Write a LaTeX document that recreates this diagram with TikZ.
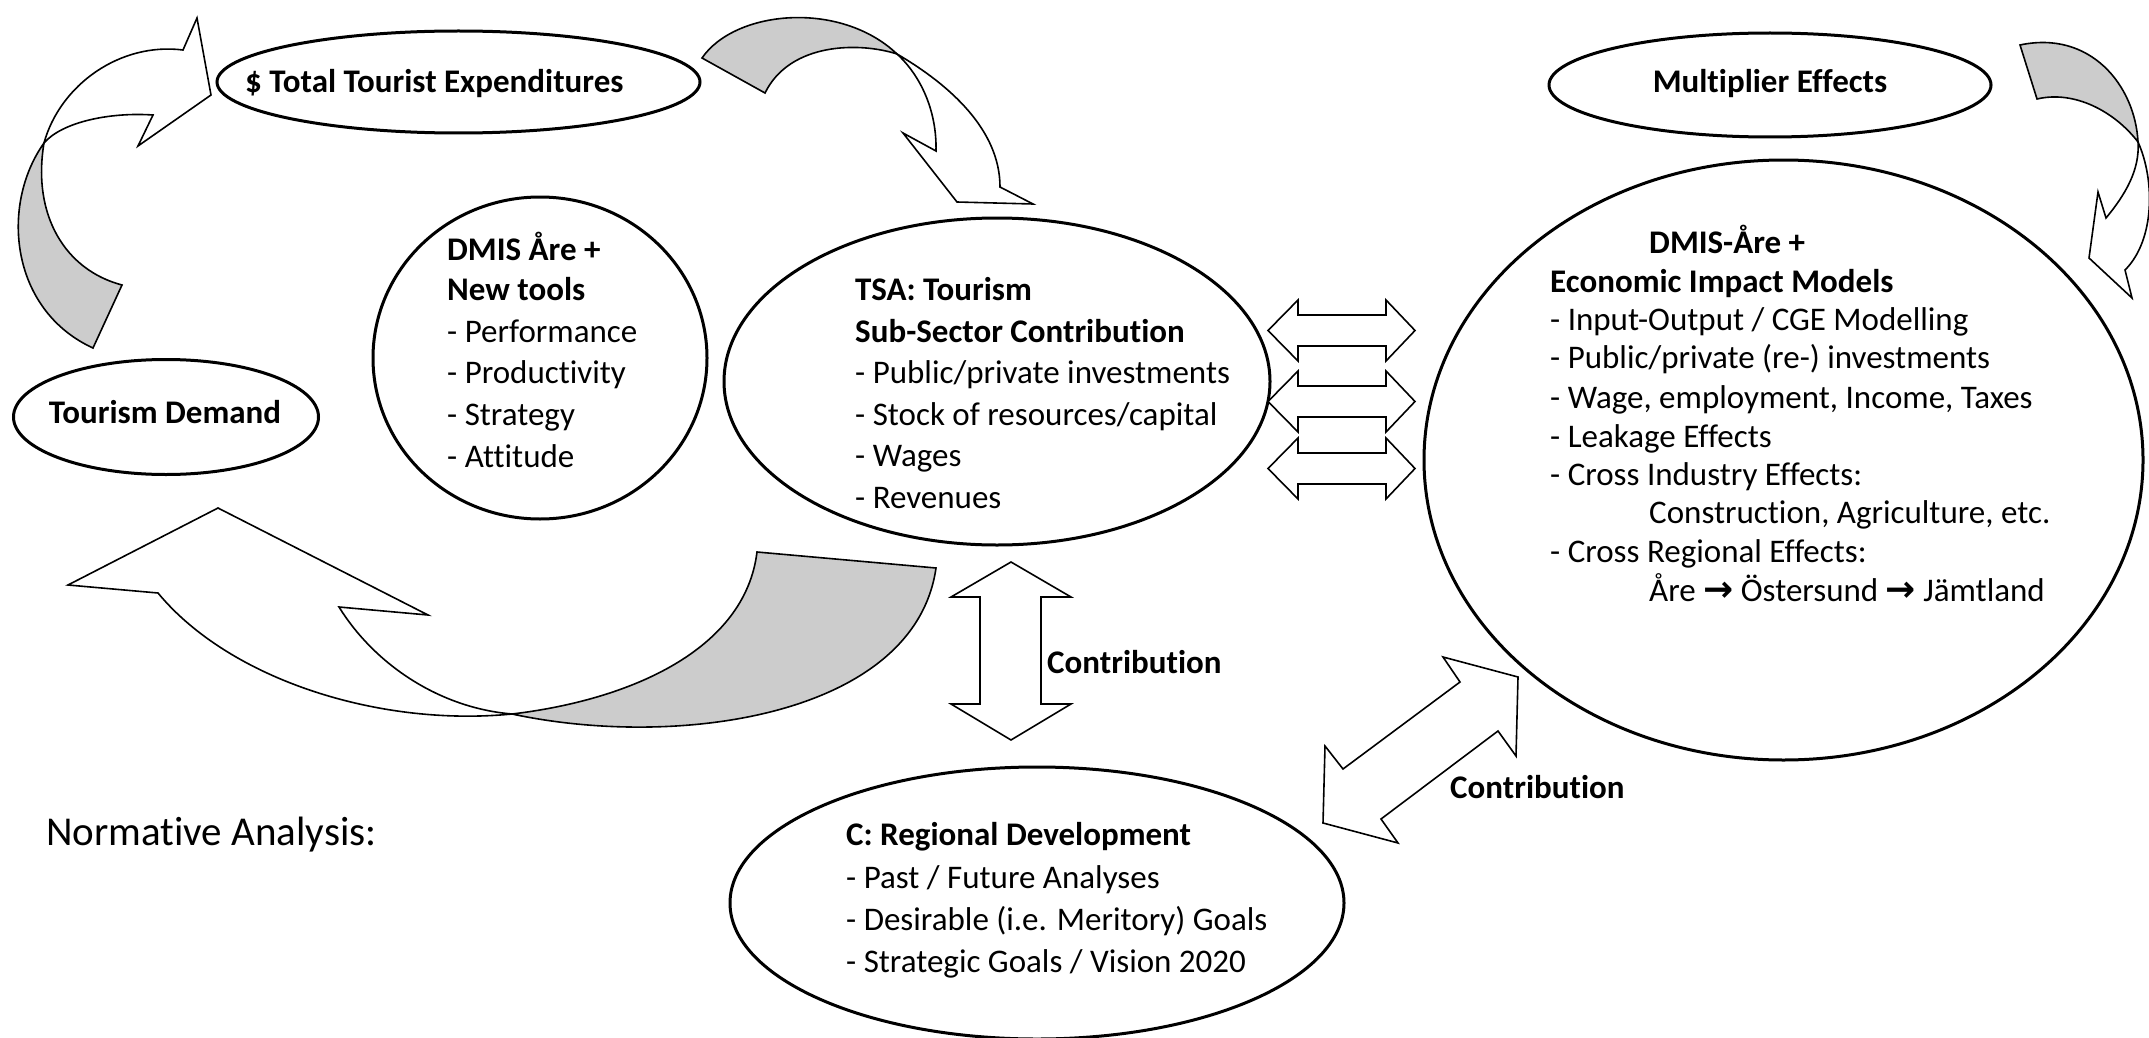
\documentclass[tikz,border=0pt]{standalone}
\usepackage{fontspec}
\setmainfont{Carlito}[Ligatures={NoCommon,NoContextual}]
\newfontfamily\symfont{DejaVu Sans}
\usetikzlibrary{shapes.geometric}
\newcommand{\bigarr}{{\symfont\bfseries\fontsize{36}{40}\selectfont →}}
\begin{document}
\begin{tikzpicture}[x=1pt,y=-1pt,
  ell/.style={draw, line width=3pt, ellipse, inner sep=0pt},
  shp/.style={draw, line width=1.6pt, line join=miter, miter limit=10},
  wfill/.style={shp, fill=white},
  gfill/.style={shp, fill=black!20},
  txr/.style={anchor=base west, inner sep=0pt, font=\fontsize{33}{40}\selectfont},
  txb/.style={txr, font=\fontsize{33}{40}\selectfont\bfseries},
  txc/.style={anchor=base, inner sep=0pt, font=\fontsize{33}{40}\selectfont\bfseries},
]
\useasboundingbox (0,0) rectangle (2149,1038);
\fill[white] (0,0) rectangle (2149,1038);

% ---------------- ellipses ----------------
\node[ell, minimum width=483pt, minimum height=102pt] (exp) at (458.5,82) {};
\node[ell, minimum width=305pt, minimum height=115pt] (dem) at (166,417) {};
\node[ell, minimum width=442pt, minimum height=104pt] (mult) at (1770,85) {};
\node[ell, minimum width=334pt, minimum height=322pt] (dmis) at (540,358) {};
\node[ell, minimum width=546pt, minimum height=327pt] (tsa) at (997,381.5) {};
\node[ell, minimum width=719pt, minimum height=600pt] (dmr) at (1783.5,460) {};
\node[ell, minimum width=614pt, minimum height=272pt] (regdev) at (1037,903) {};

% ---------------- texts ----------------
\node[txb] (expt) at (245,93) {\$ Total Tourist Expenditures};
\node[txc] (demt) at (165,423) {Tourism Demand};
\node[txc] (multt) at (1770,93) {Multiplier Effects};

\node[txb] (dm1) at (447,260) {DMIS Åre +};
\node[txb] (dm2) at (447,300) {New tools};
\node[txr] (dm3) at (447,342) {- Performance};
\node[txr] (dm4) at (447,383) {- Productivity};
\node[txr] (dm5) at (447,425) {- Strategy};
\node[txr] (dm6) at (447,467) {- Attitude};

\node[txb] (ts1) at (855,300.5) {TSA: Tourism};
\node[txb] (ts2) at (855,342) {Sub-Sector Contribution};
\node[txr] (ts3) at (855,383.5) {- Public/private investments};
\node[txr] (ts4) at (855,425) {- Stock of resources/capital};
\node[txr] (ts5) at (855,466.5) {- Wages};
\node[txr] (ts6) at (855,508) {- Revenues};

\node[txb] (dr1) at (1649,253) {DMIS-Åre +};
\node[txb] (dr2) at (1550,292) {Economic Impact Models};
\node[txr] (dr3) at (1550,330) {- Input-Output / CGE Modelling};
\node[txr] (dr4) at (1550,368) {- Public/private (re-) investments};
\node[txr] (dr5) at (1550,408) {- Wage, employment, Income, Taxes};
\node[txr] (dr6) at (1550,447) {- Leakage Effects};
\node[txr] (dr7) at (1550,485) {- Cross Industry Effects:};
\node[txr] (dr8) at (1649,523) {Construction, Agriculture, etc.};
\node[txr] (dr9) at (1550,562) {- Cross Regional Effects:};
\node[txr] (dr10) at (1649,601) {Åre \bigarr{} Östersund \bigarr{} Jämtland};

\node[txb] (rg1) at (846,845) {C: Regional Development};
\node[txr] (rg2) at (846,888) {- Past / Future Analyses};
\node[txr] (rg3) at (846,930) {- Desirable (i.e. Meritory) Goals};
\node[txr] (rg4) at (846,972) {- Strategic Goals / Vision 2020};

\node[txb] (con1) at (1047,673) {Contribution};
\node[txb] (con2) at (1450,798) {Contribution};
\node[anchor=base west, inner sep=0pt, font=\fontsize{41}{48}\selectfont] (norm) at (46,845) {Normative Analysis:};

% ---------------- curved ribbon arrows ----------------
% top-left
\draw[wfill] (183,50) .. controls (120,42) and (60,85) .. (44,143)
  .. controls (62,122) and (110,112) .. (153,115) -- (138,146) -- (211,95) -- (197,18) -- cycle;
\draw[gfill] (44,143) .. controls (0,205) and (10,310) .. (93,348) -- (122,285)
  .. controls (65,270) and (32,215) .. (44,143) -- cycle;

% top-middle
\draw[gfill] (702,58) .. controls (735,10) and (840,0) .. (897,54)
  .. controls (860,42) and (790,42) .. (765,93) -- cycle;
\draw[wfill] (897,54) .. controls (950,85) and (1000,130) .. (1000,187) -- (1033,204) -- (957,202)
  -- (903,133) -- (936,151) .. controls (937,110) and (920,75) .. (897,54) -- cycle;

% top-right
\draw[gfill] (2020,45) .. controls (2090,30) and (2135,85) .. (2138,142)
  .. controls (2115,112) and (2075,90) .. (2037,99) -- cycle;
\draw[wfill] (2138,142) .. controls (2155,180) and (2155,240) .. (2125,270) -- (2132,298) -- (2089,258)
  -- (2098,192) -- (2106,218) .. controls (2125,195) and (2140,170) .. (2138,142) -- cycle;

% bottom-left
\draw[wfill] (339,607) .. controls (375,665) and (440,708) .. (512,714)
  .. controls (380,727) and (230,680) .. (158,593) -- (68,585) -- (218,508) -- (428,615) -- cycle;
\draw[gfill] (512,714) .. controls (630,700) and (745,650) .. (757,552) -- (936,568)
  .. controls (915,715) and (680,750) .. (512,714) -- cycle;

% ---------------- double block arrows ----------------
\foreach \c in {330.5,401.5,468.5}{
  \draw[wfill] (1268,\c) -- (1298,\c-30.5) -- (1298,\c-15.5) -- (1386,\c-15.5) -- (1386,\c-30.5)
    -- (1415,\c) -- (1386,\c+30.5) -- (1386,\c+15.5) -- (1298,\c+15.5) -- (1298,\c+30.5) -- cycle;
}
\draw[wfill] (1011,562) -- (1071,597) -- (1041,597) -- (1041,704) -- (1071,704) -- (1011,740)
  -- (951,704) -- (980,704) -- (980,597) -- (951,597) -- cycle;
\draw[wfill] (1518,677) -- (1516,756) -- (1498,731) -- (1381,819) -- (1398,843) -- (1323,823)
  -- (1325,746) -- (1343,769) -- (1460,682) -- (1443,657) -- cycle;
\end{tikzpicture}
\end{document}
